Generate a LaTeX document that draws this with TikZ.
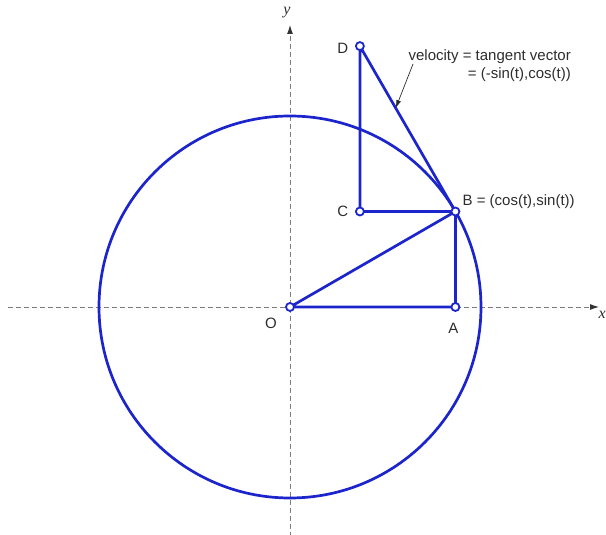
\documentclass[tikz,border=0pt]{standalone}
\usepackage{fontspec}
\setmainfont{Liberation Sans}
\newfontfamily\axisfont{Liberation Serif}
\usetikzlibrary{arrows.meta,positioning,calc}
\definecolor{CircBlue}{RGB}{28,36,204}
\definecolor{AxisGray}{RGB}{125,125,125}
\definecolor{TextGray}{RGB}{45,45,45}

\begin{document}
\begin{tikzpicture}[x=1pt,y=1pt,font=\fontsize{15}{18}\selectfont,text=TextGray,>=Latex,
  pt/.style={draw=CircBlue,circle,fill=white,line width=1.8pt,inner sep=0pt,minimum size=8pt},
  seg/.style={CircBlue,line width=2.7pt,line join=round},
  axislab/.style={font=\axisfont\itshape\fontsize{16}{18}\selectfont},
  axis/.style={AxisGray,dash pattern=on 5pt off 3pt,line width=0.9pt,-{Latex[length=9pt,width=6pt,black!80]}}]
  \useasboundingbox (-290,-228) rectangle (316,307);
  \coordinate (O) at (0,0);
  \coordinate (B) at (30:191);
  \coordinate (A) at (B|-O);
  \coordinate (D) at ($(B)+(120:191)$);
  \coordinate (C) at (D|-B);
  \coordinate (xl) at (-282,0); \coordinate (xr) at (309,0);
  \coordinate (yb) at (0,-230); \coordinate (yt) at (0,282);
  \draw[axis] (xl)--(xr);
  \draw[axis] (yb)--(yt);
  \node[axislab] (ylab) at (-3,294) {y};
  \node[axislab,anchor=east,inner sep=0pt] (xlab) at (316,-8) {x};
  \draw[seg] (O) circle[radius=191];
  \draw[seg] (O)--(A)--(B)--cycle;
  \draw[seg] (B)--(C)--(D)--cycle;
  \foreach \p in {O,A,B,C,D} \node[pt] (m\p) at (\p) {};
  \node (lO) at ($(O)+(-19,-16)$) {O};
  \node (lA) at ($(A)+(-2,-21)$) {A};
  \node (lC) at ($(C)+(-17,0)$) {C};
  \node (lD) at ($(D)+(-17,-2)$) {D};
  \node[anchor=west,inner sep=0pt] (lB) at ($(B)+(7,9.5)$) {B = (cos(t),sin(t))};
  \node[align=right,anchor=north east,inner sep=0pt] (vel) at (281,258) {velocity = tangent vector\\= (-sin(t),cos(t))};
  \coordinate (vtail) at (123,243);
  \coordinate (vtip) at ($(D)!0.375!(B)$);
  \draw[-{Latex[length=8pt,width=5pt]},TextGray,line width=0.7pt] (vtail)--(vtip);
\end{tikzpicture}
\end{document}
